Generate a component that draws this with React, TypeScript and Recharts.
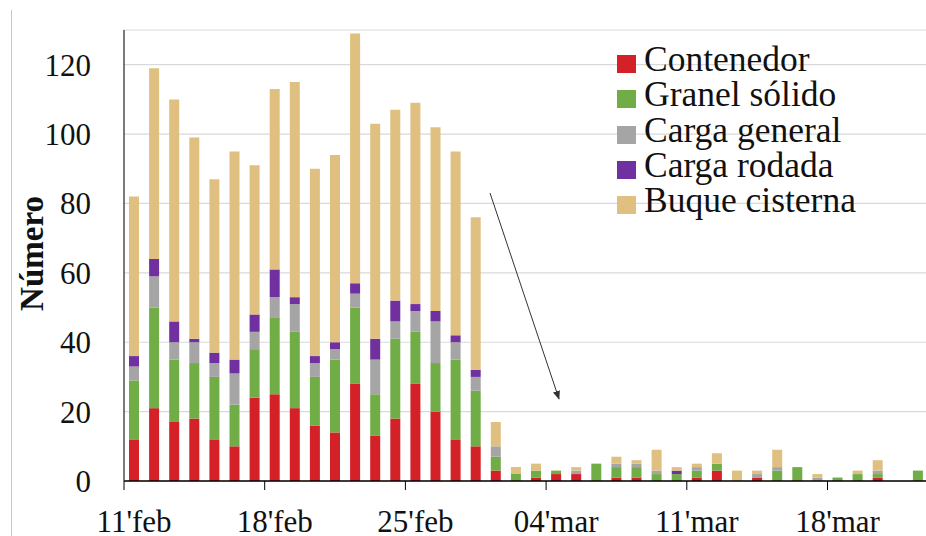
import React from 'react';
import { BarChart, Bar, XAxis, YAxis, CartesianGrid, Legend } from 'recharts';

const dates = [
  "11'feb", "12'feb", "13'feb", "14'feb", "15'feb", "16'feb", "17'feb", "18'feb", "19'feb", "20'feb",
  "21'feb", "22'feb", "23'feb", "24'feb", "25'feb", "26'feb", "27'feb", "28'feb", "01'mar", "02'mar",
  "03'mar", "04'mar", "05'mar", "06'mar", "07'mar", "08'mar", "09'mar", "10'mar", "11'mar", "12'mar",
  "13'mar", "14'mar", "15'mar", "16'mar", "17'mar", "18'mar", "19'mar", "20'mar", "21'mar", "22'mar",
];

const contenedor = [12, 21, 17, 18, 12, 10, 24, 25, 21, 16, 14, 28, 13, 18, 28, 20, 12, 10, 3, 0, 1, 2, 2, 0, 1, 1, 0, 0, 1, 3, 0, 1, 0, 0, 0, 0, 0, 1, 0, 0];
const granelSolido = [17, 29, 18, 16, 18, 12, 14, 22, 22, 14, 21, 22, 12, 23, 15, 14, 23, 16, 4, 2, 2, 1, 0, 5, 3, 3, 2, 2, 2, 2, 0, 0, 3, 4, 0, 1, 2, 1, 0, 3];
const cargaGeneral = [4, 9, 5, 6, 4, 9, 5, 6, 8, 4, 3, 4, 10, 5, 6, 12, 5, 4, 3, 0, 0, 0, 1, 0, 1, 1, 1, 0, 1, 0, 0, 1, 1, 0, 1, 0, 0, 1, 0, 0];
const cargaRodada = [3, 5, 6, 1, 3, 4, 5, 8, 2, 2, 2, 3, 6, 6, 2, 3, 2, 2, 0, 0, 0, 0, 0, 0, 0, 0, 0, 1, 0, 0, 0, 0, 0, 0, 0, 0, 0, 0, 0, 0];
const buqueCisterna = [46, 55, 64, 58, 50, 60, 43, 52, 62, 54, 54, 72, 62, 55, 58, 53, 53, 44, 7, 2, 2, 0, 1, 0, 2, 1, 6, 1, 1, 3, 3, 1, 5, 0, 1, 0, 1, 3, 0, 0];

const yTicks = [0, 20, 40, 60, 80, 100, 120];

const seriesKeys = ['contenedor', 'granelSolido', 'cargaGeneral', 'cargaRodada', 'buqueCisterna'];
const seriesNames = ['Contenedor', 'Granel sólido', 'Carga general', 'Carga rodada', 'Buque cisterna'];
const seriesColors = ['#D42027', '#70AD47', '#A5A5A5', '#7030A0', '#E0C080'];

const data = dates.map((d, i) => ({
  date: d,
  contenedor: contenedor[i],
  granelSolido: granelSolido[i],
  cargaGeneral: cargaGeneral[i],
  cargaRodada: cargaRodada[i],
  buqueCisterna: buqueCisterna[i],
}));

const FONT = '"Liberation Serif", "DejaVu Serif", serif';
const CHART_W = 940;
const CHART_H = 536;
const MARGIN = { top: 30, right: 12, left: 0, bottom: 0 };
const Y_W = 124;
const X_H = 55;
const PLOT_W = CHART_W - MARGIN.left - MARGIN.right - Y_W;
const BAND = PLOT_W / dates.length;

function XTick(props: any) {
  const { x, y, payload } = props;
  return (
    <g>
      <line x1={x - BAND / 2} x2={x - BAND / 2} y1={y} y2={y + 9} stroke="#000" strokeWidth={1} />
      <text x={x} y={y + 51} textAnchor="middle" fontFamily={FONT} fontSize={31} fill="#111">
        {payload.value}
      </text>
    </g>
  );
}

function YLabel(props: any) {
  const vb = props.viewBox || { x: 0, y: 0, width: 0, height: 0 };
  const cx = vb.x + 43;
  const cy = vb.y + vb.height / 2 - 2;
  return (
    <text
      x={cx}
      y={cy}
      transform={`rotate(-90, ${cx}, ${cy})`}
      textAnchor="middle"
      fontFamily={FONT}
      fontWeight="bold"
      fontSize={33}
      fill="#111"
    >
      Número
    </text>
  );
}

function LegendContent() {
  return (
    <div style={{ fontFamily: FONT }}>
      {seriesNames.map((n, i) => (
        <div key={n} style={{ display: 'flex', alignItems: 'flex-start', height: 35.3 }}>
          <div style={{ width: 19, height: 18, background: seriesColors[i], marginTop: 13, marginRight: 8, flex: 'none' }} />
          <span style={{ fontSize: 35.5, lineHeight: '35.3px', color: '#111', whiteSpace: 'nowrap' }}>{n}</span>
        </div>
      ))}
    </div>
  );
}

export default function App() {
  return (
    <div style={{ position: 'absolute', left: 0, top: 0, width: 926, height: 536, overflow: 'hidden', background: '#fff' }}>
      <div style={{ position: 'absolute', left: 11, top: 10, width: 1, height: 526, background: '#C8C8C8' }} />
      <div style={{ position: 'absolute', left: 0, top: 0 }}>
        <BarChart width={CHART_W} height={CHART_H} data={data} margin={MARGIN} barSize={10}>
          <CartesianGrid vertical={false} stroke="#D9D9D9" strokeWidth={1.2} />
          <XAxis
            dataKey="date"
            interval={6}
            height={X_H}
            tickLine={false}
            tickSize={0}
            tickMargin={0}
            axisLine={{ stroke: '#000', strokeWidth: 1.3 }}
            tick={<XTick />}
          />
          <YAxis
            width={Y_W}
            domain={[0, 130]}
            ticks={yTicks}
            tickLine={false}
            tickSize={6}
            tickMargin={27}
            axisLine={{ stroke: '#333', strokeWidth: 1.3 }}
            tick={{ fontFamily: FONT, fontSize: 31, fill: '#111' }}
            label={<YLabel />}
          />
          <Legend
            layout="vertical"
            align="center"
            verticalAlign="middle"
            wrapperStyle={{ left: 617, top: 42, width: 'auto' }}
            content={<LegendContent />}
          />
          {seriesKeys.map((k, i) => (
            <Bar key={k} dataKey={k} name={seriesNames[i]} stackId="a" fill={seriesColors[i]} isAnimationActive={false} />
          ))}
        </BarChart>
      </div>
      <svg width={926} height={536} style={{ position: 'absolute', left: 0, top: 0, pointerEvents: 'none' }}>
        <defs>
          <marker id="arrowHead" viewBox="0 0 10 10" refX="9" refY="5" markerWidth="9" markerHeight="9" markerUnits="userSpaceOnUse" orient="auto">
            <path d="M0,1 L10,5 L0,9 z" fill="#333" />
          </marker>
        </defs>
        <line x1={490} y1={193} x2={559} y2={399} stroke="#333" strokeWidth={1} markerEnd="url(#arrowHead)" />
      </svg>
    </div>
  );
}
